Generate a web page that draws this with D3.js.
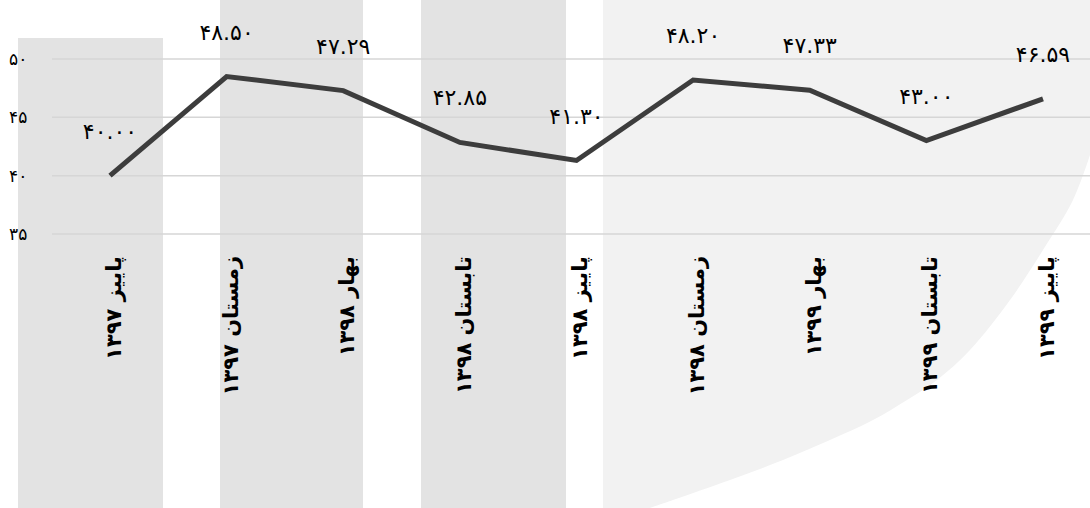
<!DOCTYPE html>
<html>
<head>
<meta charset="utf-8">
<script src="https://cdn.jsdelivr.net/npm/d3@7/dist/d3.min.js"></script>
<style>
  html, body { margin: 0; padding: 0; background: #fff; }
  svg { display: block; }
  text { font-family: "DejaVu Sans", "Noto Sans", sans-serif; }
</style>
</head>
<body>
<svg id="chart" width="1090" height="508"></svg>
<script>
// ---- data ----
const categories = [
  "پاییز ۱۳۹۷", "زمستان ۱۳۹۷", "بهار ۱۳۹۸", "تابستان ۱۳۹۸", "پاییز ۱۳۹۸",
  "زمستان ۱۳۹۸", "بهار ۱۳۹۹", "تابستان ۱۳۹۹", "پاییز ۱۳۹۹"
];
const values = [40.00, 48.50, 47.29, 42.85, 41.30, 48.20, 47.33, 43.00, 46.59];
const valueLabels = ["۴۰.۰۰", "۴۸.۵۰", "۴۷.۲۹", "۴۲.۸۵", "۴۱.۳۰", "۴۸.۲۰", "۴۷.۳۳", "۴۳.۰۰", "۴۶.۵۹"];
const yTicks = [35, 40, 45, 50];
const yTickLabels = ["۳۵", "۴۰", "۴۵", "۵۰"];

// ---- layout ----
const W = 1090, H = 508;
const svg = d3.select("#chart");

const x = d3.scalePoint().domain(categories).range([110, 1043]);
const y = d3.scaleLinear().domain([35, 50]).range([234, 59]);

// ---- background watermark ----
const bg = svg.append("g");
const curvePts = [[1090, 155], [1073, 200], [1043, 250], [1010, 300], [970, 350], [937, 380], [907, 400], [873, 420], [830, 440], [783, 460], [730, 480], [673, 500], [650, 508]];
const edge = d3.line().curve(d3.curveCatmullRom)(curvePts);
// light gray region: from x=603 to the curved edge
bg.append("path")
  .attr("d", "M603,0 L1090,0 L" + edge.slice(1) + " L603,508 Z")
  .attr("fill", "#f2f2f2");
bg.append("rect").attr("x", 18).attr("y", 38).attr("width", 145).attr("height", H - 38).attr("fill", "#e3e3e3");
bg.append("rect").attr("x", 220).attr("y", 0).attr("width", 143).attr("height", H).attr("fill", "#e3e3e3");
bg.append("rect").attr("x", 421).attr("y", 0).attr("width", 145).attr("height", H).attr("fill", "#e3e3e3");

// ---- grid ----
const grid = svg.append("g");
grid.selectAll("line").data(yTicks).join("line")
  .attr("x1", 52).attr("x2", W)
  .attr("y1", d => y(d)).attr("y2", d => y(d))
  .attr("stroke", "#d6d6d6").attr("stroke-width", 1.5);

// ---- y axis labels ----
const yAxis = d3.axisLeft(y).tickValues(yTicks).tickSize(0)
  .tickFormat((d, i) => yTickLabels[i]);
const yg = svg.append("g").attr("transform", "translate(40,0)").call(yAxis);
yg.select(".domain").remove();
yg.selectAll("text")
  .attr("x", -31).attr("text-anchor", "start")
  .attr("font-size", 17).attr("fill", "#000")
  .style("font-family", '"DejaVu Sans", sans-serif');

// ---- line ----
const line = d3.line().x((d, i) => x(categories[i])).y(d => y(d));
svg.append("path").datum(values)
  .attr("d", line)
  .attr("fill", "none")
  .attr("stroke", "#3d3d3d")
  .attr("stroke-width", 5)
  .attr("stroke-linejoin", "miter");

// ---- data labels ----
svg.append("g").selectAll("text").data(values).join("text")
  .attr("x", (d, i) => x(categories[i]))
  .attr("y", d => y(d) - 37)
  .attr("text-anchor", "middle")
  .attr("font-size", 22)
  .attr("fill", "#000")
  .text((d, i) => valueLabels[i]);

// ---- x axis labels (rotated) ----
svg.append("g").selectAll("text").data(categories).join("text")
  .attr("transform", d => `translate(${x(d) + 3},256) rotate(-90)`)
  .attr("text-anchor", "end")
  .attr("dy", "0.38em")
  .attr("font-size", 21)
  .attr("font-weight", "bold")
  .attr("fill", "#000")
  .text(d => d);
</script>
</body>
</html>
